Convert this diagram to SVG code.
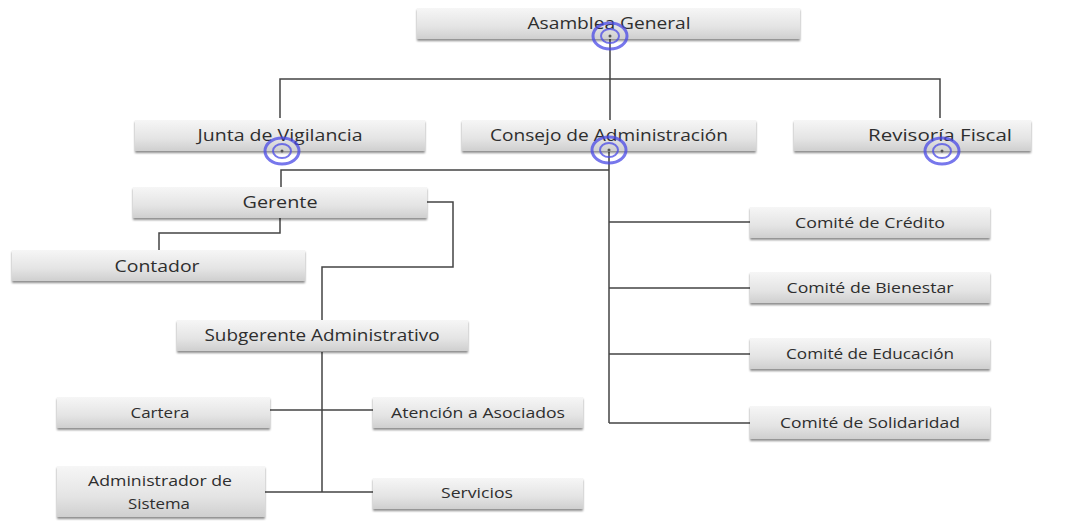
<svg xmlns="http://www.w3.org/2000/svg" width="1078" height="521" viewBox="0 0 1078 521">
<defs>
<linearGradient id="g" x1="0" y1="0" x2="0" y2="1">
<stop offset="0" stop-color="#f6f6f6"/>
<stop offset="0.6" stop-color="#e4e4e4"/>
<stop offset="1" stop-color="#cfcfcf"/>
</linearGradient>
<filter id="sh" x="-5%" y="-20%" width="110%" height="150%">
<feGaussianBlur in="SourceAlpha" stdDeviation="1.2"/>
<feOffset dx="0" dy="2" result="b"/>
<feComponentTransfer><feFuncA type="linear" slope="0.45"/></feComponentTransfer>
<feMerge><feMergeNode/><feMergeNode in="SourceGraphic"/></feMerge>
</filter>
</defs>
<style>
.box{fill:url(#g);filter:url(#sh)}
.t{font-family:"Open Sans","Liberation Sans",sans-serif;fill:#2e2e2e;text-anchor:middle;font-size:16px}
.s{font-size:14px}
.c{fill:none;stroke:#444;stroke-width:1.5}
.ring{fill:none;stroke:#4a4ae6;stroke-opacity:0.75}
</style>
<rect width="1078" height="521" fill="#fff"/>
<g id="connectors" class="c">
<path d="M610 38V79M280 118V79H940V118M610 79V120"/>
<path d="M609 152V423M609 170H281V188"/>
<path d="M609 222H750M609 288H750M609 354H750M609 423H750"/>
<path d="M280 218V233H159V250"/>
<path d="M427 202H453V267H322V320"/>
<path d="M322 352V492M270 410H373M265 492H373"/>
</g>
<g id="asamblea"><rect class="box" x="417" y="8" width="383" height="31"/><text class="t" x="609" y="29" textLength="163" lengthAdjust="spacingAndGlyphs">Asamblea General</text></g>
<g id="junta"><rect class="box" x="135" y="120" width="290" height="31"/><text class="t" x="280" y="141" textLength="165" lengthAdjust="spacingAndGlyphs">Junta de Vigilancia</text></g>
<g id="consejo"><rect class="box" x="462" y="120" width="294" height="31"/><text class="t" x="609" y="141" textLength="238" lengthAdjust="spacingAndGlyphs">Consejo de Administración</text></g>
<g id="revisoria"><rect class="box" x="794" y="120" width="237" height="31"/><text class="t" x="940" y="141" textLength="144" lengthAdjust="spacingAndGlyphs">Revisoría Fiscal</text></g>
<g id="gerente"><rect class="box" x="133" y="187" width="294" height="31"/><text class="t" x="280" y="208" textLength="75" lengthAdjust="spacingAndGlyphs">Gerente</text></g>
<g id="contador"><rect class="box" x="12" y="250" width="293" height="31"/><text class="t" x="157" y="272" textLength="85" lengthAdjust="spacingAndGlyphs">Contador</text></g>
<g id="subgerente"><rect class="box" x="177" y="320" width="291" height="31"/><text class="t" x="322" y="341" textLength="235" lengthAdjust="spacingAndGlyphs">Subgerente Administrativo</text></g>
<g id="cartera"><rect class="box" x="57" y="397" width="213" height="31"/><text class="t s" x="160" y="418" textLength="59" lengthAdjust="spacingAndGlyphs">Cartera</text></g>
<g id="atencion"><rect class="box" x="373" y="397" width="210" height="31"/><text class="t s" x="478" y="418" textLength="174" lengthAdjust="spacingAndGlyphs">Atención a Asociados</text></g>
<g id="administrador"><rect class="box" x="57" y="466" width="208" height="51"/><text class="t s" x="160" y="486" textLength="144" lengthAdjust="spacingAndGlyphs">Administrador de</text><text class="t s" x="159" y="509" textLength="62" lengthAdjust="spacingAndGlyphs">Sistema</text></g>
<g id="servicios"><rect class="box" x="373" y="478" width="210" height="31"/><text class="t s" x="477" y="498" textLength="72" lengthAdjust="spacingAndGlyphs">Servicios</text></g>
<g id="credito"><rect class="box" x="750" y="207" width="240" height="31"/><text class="t s" x="870" y="228" textLength="150" lengthAdjust="spacingAndGlyphs">Comité de Crédito</text></g>
<g id="bienestar"><rect class="box" x="750" y="272" width="240" height="31"/><text class="t s" x="870" y="293" textLength="167" lengthAdjust="spacingAndGlyphs">Comité de Bienestar</text></g>
<g id="educacion"><rect class="box" x="750" y="338" width="240" height="31"/><text class="t s" x="870" y="359" textLength="168" lengthAdjust="spacingAndGlyphs">Comité de Educación</text></g>
<g id="solidaridad"><rect class="box" x="750" y="406" width="240" height="33"/><text class="t s" x="870" y="428" textLength="180" lengthAdjust="spacingAndGlyphs">Comité de Solidaridad</text></g>
<g id="markers">
<g transform="translate(610,36)"><ellipse class="ring" rx="17" ry="13" stroke-width="3"/><ellipse class="ring" rx="9" ry="7" stroke-width="2"/><circle r="1.5" fill="#555"/></g>
<g transform="translate(282,151)"><ellipse class="ring" rx="17" ry="13" stroke-width="3"/><ellipse class="ring" rx="9" ry="7" stroke-width="2"/><circle r="1.5" fill="#555"/></g>
<g transform="translate(609,150)"><ellipse class="ring" rx="17" ry="13" stroke-width="3"/><ellipse class="ring" rx="9" ry="7" stroke-width="2"/><circle r="1.5" fill="#555"/></g>
<g transform="translate(942,151)"><ellipse class="ring" rx="17" ry="13" stroke-width="3"/><ellipse class="ring" rx="9" ry="7" stroke-width="2"/><circle r="1.5" fill="#555"/></g>
</g>
</svg>
